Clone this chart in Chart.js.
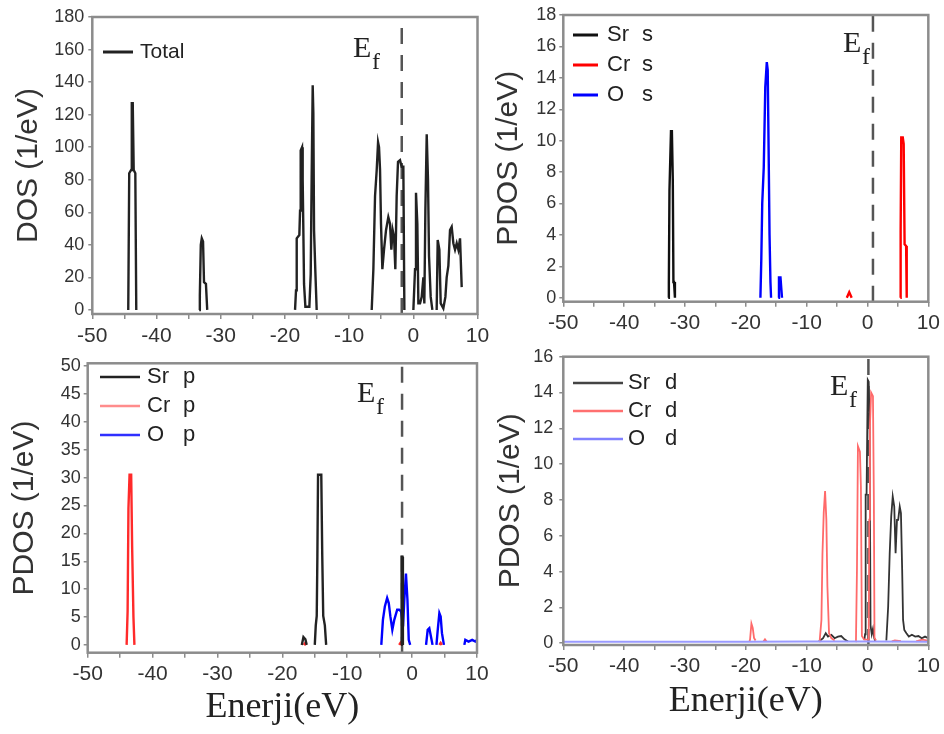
<!DOCTYPE html>
<html><head><meta charset="utf-8">
<script src="https://cdn.jsdelivr.net/npm/chart.js@4"></script>
<style>
html,body{margin:0;padding:0;background:#fff;}
#wrap{position:relative;width:944px;height:734px;overflow:hidden;background:#fff;}
canvas{position:absolute;left:0;top:0;}
</style></head><body>
<div id="wrap">
<canvas id="c1" width="944" height="734"></canvas>
<canvas id="c2" width="944" height="734"></canvas>
<canvas id="c3" width="944" height="734"></canvas>
<canvas id="c4" width="944" height="734"></canvas>
</div>
<script>
// ---------- DATA (energy in eV, DOS in 1/eV); null = gap ----------
const energyTickLabels = [-50,-40,-30,-20,-10,0,10];
const dosTickLabels  = [0,20,40,60,80,100,120,140,160,180];
const sTickLabels    = [0,2,4,6,8,10,12,14,16,18];
const pTickLabels    = [0,5,10,15,20,25,30,35,40,45,50];
const dTickLabels    = [0,2,4,6,8,10,12,14,16];
const fermiLevels    = [-1.8, 0.9, -1.55, 0.15];

const totalDOS = [[-44.4,0],[-44.25,84],[-43.95,86],[-43.85,127],[-43.7,127],[-43.55,86],[-43.3,84],[-43.15,0],[-40,null],
 [-33.35,0],[-33.25,9],[-33.1,40],[-32.95,44],[-32.75,42],[-32.6,17],[-32.3,16],[-32.1,0],[-25,null],
 [-18.42,0],[-18.27,12],[-18.16,44],[-17.75,46],[-17.64,61],[-17.54,98],[-17.33,100],[-17.23,80],[-17.12,47],[-17.02,16],[-16.81,2],[-16.19,2],[-15.98,22],[-15.83,82],[-15.67,138],[-15.57,121],[-15.46,49],[-15.26,24],[-15.05,0],[-10,null],
 [-6.48,0],[-6.22,25],[-5.96,70],[-5.70,86],[-5.49,103],[-5.34,100],[-5.18,86],[-5.03,53],[-4.82,25],[-4.56,37],[-4.25,49],[-3.89,57],[-3.63,53],[-3.42,37],[-3.21,49],[-3.00,45],[-2.80,25],[-2.59,70],[-2.38,91],[-2.07,92],[-1.81,88],[-1.55,88],[-1.39,0],[-0.7,null],
 [0.01,0],[0.27,25],[0.42,72],[0.63,53],[0.79,4],[1.05,4],[1.31,8],[1.57,20],[1.72,4],[1.88,61],[2.09,108],[2.29,80],[2.45,33],[2.71,8],[2.97,0],[3.3,null],
 [3.64,0],[3.80,43],[4.06,37],[4.27,4],[4.68,1],[5.00,8],[5.20,20],[5.46,27],[5.72,49],[5.98,51],[6.24,41],[6.50,37],[6.76,41],[7.02,37],[7.28,44],[7.54,14]];

const srS = [[-32.75,0],[-32.65,1],[-32.55,6.8],[-32.3,10.6],[-32.15,10.6],[-32.0,7.5],[-31.9,1.0],[-31.8,1.0],[-31.65,0]];
const crS = [[-3.4,0],[-3.0,0.35],[-2.6,0],[0,null],[5.4,0],[5.45,4.2],[5.55,10.2],[5.8,10.2],[5.95,9.8],[6.1,3.4],[6.35,3.3],[6.45,0]];
const oS  = [[-17.6,0],[-17.45,2.5],[-17.3,6.0],[-17.05,8.3],[-16.8,13.4],[-16.55,15],[-16.4,14.5],[-16.25,9.4],[-16.1,4.0],[-15.95,1.0],[-15.85,0],[-15.2,null],
 [-14.65,0],[-14.55,1.3],[-14.3,1.3],[-14.15,0.5],[-14.05,0]];

const srP = [[-17.0,0],[-16.75,1.4],[-16.45,1.0],[-16.25,0],[-15.5,null],
 [-15.0,0],[-14.85,3.5],[-14.7,5.2],[-14.6,16],[-14.5,30.5],[-14.0,30.5],[-13.85,16],[-13.7,5.2],[-13.45,3.5],[-13.25,0],[-5,null],
 [-1.7,0],[-1.62,15.8],[-1.5,15.8],[-1.42,0]];
const crP = [[-44.0,0],[-43.85,6],[-43.72,24.5],[-43.55,30.5],[-43.3,30.5],[-43.15,17.5],[-42.95,5],[-42.8,0],[-30,null],
 [-16.7,0],[-16.5,0.3],[-16.3,0],[-10,null],[-2.0,0],[-1.8,0.35],[-1.6,0],[1,null],[4.2,0],[4.4,0.35],[4.6,0]];
const oP  = [[-4.75,0],[-4.5,4.5],[-4.2,6.9],[-3.85,8.4],[-3.6,7.5],[-3.35,5.1],[-3.05,2.7],[-2.75,4.5],[-2.3,6.3],[-2.0,6.3],[-1.7,6.0],[-1.4,3.3],[-1.2,8.1],[-0.95,12.8],[-0.72,8.1],[-0.52,0.9],[-0.3,0],[1,null],
 [2.15,0],[2.4,2.7],[2.65,3.0],[2.9,1.5],[3.15,0],[3.4,null],
 [3.75,0],[3.95,2.7],[4.2,5.7],[4.4,5.1],[4.6,2.1],[4.9,0],[6,null],
 [8.05,0],[8.2,0.9],[8.7,0.6],[9.25,0.9],[9.75,0.6],[10,0.9]];

const srD = [[-8.0,0.1],[-7.3,0.28],[-6.86,0.56],[-6.49,0.37],[-5.94,0.47],[-5.4,0.28],[-4.86,0.37],[-4.32,0.4],[-3.78,0.22],[-3.2,0.1],[-2,null],
 [-0.5,0.2],[-0.4,0.5],[-0.3,8.3],[-0.15,8.3],[0.05,14.7],[0.2,14.6],[0.35,12],[0.5,1],[0.7,0.5],[0.9,0.8],[1.1,0.3],[1.3,0.1],[2,null],
 [3.1,0.15],[3.4,2.05],[3.65,5.0],[3.9,7.07],[4.15,8.19],[4.4,7.63],[4.62,5.02],[4.85,6.89],[5.05,6.89],[5.3,7.63],[5.5,7.26],[5.7,4.1],[5.85,1.3],[6.05,0.74],[6.4,0.56],[6.8,0.37],[7.3,0.47],[7.84,0.37],[8.38,0.4],[8.92,0.28],[9.46,0.37],[10,0.28]];
const crD = [[-19.4,0.1],[-19.3,0.2],[-19.08,1.1],[-18.86,0.85],[-18.65,0.3],[-18.4,0.15],[-17.5,null],
 [-17.1,0.1],[-16.85,0.22],[-16.6,0.1],[-10,null],
 [-7.9,0.1],[-7.84,0.2],[-7.57,1.3],[-7.4,5.0],[-7.19,7.3],[-6.97,8.5],[-6.76,6.9],[-6.59,3.2],[-6.32,0.56],[-5.94,0.28],[-5.4,0.15],[-3,null],
 [-1.95,0.1],[-1.89,0.2],[-1.73,4.1],[-1.57,11.0],[-1.24,10.7],[-1.08,8.75],[-0.92,0.4],[-0.54,0.2],[0.2,0.2],[0.3,6.9],[0.4,12.1],[0.6,14.0],[0.9,13.8],[1.05,8],[1.15,0.3],[1.4,0.15],[2.5,null],
 [4.0,0.1],[4.5,0.15],[5.5,0.12],[7,null],[8,0.1],[9,0.2],[10,0.15]];
const oD  = [[-50,0.08],[-30,0.08],[-20,0.08],[-10,0.1],[0,0.1],[10,0.08]];

// ---------- helpers ----------
const SANS = '"Liberation Sans", Arial, sans-serif';
const SERIF = '"Liberation Serif", "Times New Roman", serif';
const toXY = arr => arr.map(p => ({x: p[0], y: p[1]}));

const decor = {
  id: 'decor',
  afterDatasetsDraw(chart, args, o) {
    const ctx = chart.ctx, a = chart.chartArea;
    ctx.save();
    ctx.strokeStyle = '#8c8c8c'; ctx.lineWidth = 2.5;
    ctx.strokeRect(a.left, a.top, a.right - a.left, a.bottom - a.top);
    const L = o.legend;
    ctx.font = L.font; ctx.textBaseline = 'middle'; ctx.textAlign = 'left';
    chart.data.datasets.forEach(ds => {
      if (ds.legendRow === undefined) return;
      const y = L.y + ds.legendRow * L.dy;
      ctx.strokeStyle = ds.legendColor || ds.borderColor; ctx.lineWidth = L.lw;
      ctx.beginPath(); ctx.moveTo(L.x0, y); ctx.lineTo(L.x1, y); ctx.stroke();
      ctx.fillStyle = '#222';
      const parts = ds.label.split(' ');
      ctx.fillText(parts[0], L.tx, y);
      if (parts.length > 1) ctx.fillText(parts[1], L.tx + L.col, y);
    });
    const E = o.ef;
    ctx.fillStyle = '#222'; ctx.textBaseline = 'alphabetic';
    ctx.font = '30px ' + SERIF;
    ctx.fillText('E', E.x, E.y);
    ctx.font = '24px ' + SERIF;
    ctx.fillText('f', E.x + 19, E.y + 12);
    ctx.restore();
  }
};

function curve(label, arr, color, width, row, legendColor) {
  return {label, data: toXY(arr), borderColor: color, backgroundColor: color, borderWidth: width,
    pointRadius: 0, tension: 0, spanGaps: false, legendRow: row, legendColor};
}
function fermi(ef, ymin, ymax) {
  return {label: 'Ef', data: [{x: ef, y: ymin}, {x: ef, y: ymax}], borderColor: '#555', borderWidth: 2.5,
    borderDash: [16, 11], pointRadius: 0, tension: 0};
}

function makePanel(id, p) {
  new Chart(document.getElementById(id), {
    type: 'line',
    data: {datasets: p.datasets},
    options: {
      responsive: false, animation: false, devicePixelRatio: 1,
      layout: {padding: p.pad, autoPadding: false},
      plugins: {legend: {display: false}, tooltip: {enabled: false}, decor: {legend: p.legend, ef: p.ef}},
      scales: {
        x: {type: 'linear', min: -50, max: 10,
          afterFit: s => { s.height = p.xh; },
          border: {display: false},
          grid: {drawOnChartArea: false, tickLength: 5, color: '#8c8c8c', lineWidth: 1.5},
          ticks: {stepSize: 5, autoSkip: false, maxRotation: 0, padding: p.xpad, color: '#333',
            font: {family: SANS, size: 21},
            callback: v => energyTickLabels.includes(v) ? String(v) : ''},
          title: p.xtitle ? {display: true, text: p.xtitle, color: '#222', padding: 0,
            font: {family: SERIF, size: 36}} : {display: false}
        },
        y: {min: p.ymin, max: p.ymax,
          afterFit: s => { s.width = p.yw; },
          border: {display: false},
          grid: {drawOnChartArea: false, tickLength: 4, color: '#8c8c8c', lineWidth: 1.5},
          ticks: {stepSize: p.ystep, includeBounds: false, padding: p.ypad, color: '#333',
            font: {family: SANS, size: 18},
            callback: v => p.yticks.includes(v) ? String(v) : ''},
          title: {display: true, text: p.ytitle, color: '#333', padding: 0, font: {family: SANS, size: 30}}
        }
      }
    },
    plugins: [decor]
  });
}

makePanel('c1', {
  pad: {left: 10.3, top: 17, right: 466.5, bottom: 390}, yw: 82, xh: 30, xpad: 5, ypad: 4,
  ymin: -2.5, ymax: 180, ystep: 20, yticks: dosTickLabels, ytitle: 'DOS (1/eV)',
  legend: {x0: 103, x1: 133, tx: 140, y: 52, dy: 30, lw: 3, col: 0, font: '21px ' + SANS},
  ef: {x: 353, y: 57},
  datasets: [curve('Total', totalDOS, '#222', 2.4, 0), fermi(fermiLevels[0], -2.5, 180)]
});
makePanel('c2', {
  pad: {left: 491, top: 15, right: 10.7, bottom: 402.3}, yw: 72.3, xh: 30, xpad: 4, ypad: 3,
  ymin: -0.25, ymax: 18, ystep: 2, yticks: sTickLabels, ytitle: 'PDOS (1/eV)',
  legend: {x0: 573, x1: 598, tx: 607, y: 35, dy: 30, lw: 3, col: 35, font: '22px ' + SANS},
  ef: {x: 843, y: 52},
  datasets: [curve('Sr s', srS, '#111', 2.4, 0), curve('Cr s', crS, '#ff0000', 2.4, 1), curve('O s', oS, '#0000ff', 2.4, 2),
    fermi(fermiLevels[1], -0.25, 18)]
});
makePanel('c3', {
  pad: {left: 7, top: 363.3, right: 467, bottom: 4.4}, yw: 80.7, xh: 76.9, xpad: 4, ypad: 3,
  ymin: -1.4, ymax: 50.5, ystep: 5, yticks: pTickLabels, ytitle: 'PDOS (1/eV)', xtitle: 'Enerji(eV)',
  legend: {x0: 100, x1: 140, tx: 147, y: 377, dy: 29, lw: 2.5, col: 36, font: '22px ' + SANS},
  ef: {x: 357, y: 402},
  datasets: [curve('Sr p', srP, '#222', 2.4, 0), curve('Cr p', crP, '#ff2a2a', 2.4, 1, '#ff8c8c'), curve('O p', oP, '#0000ff', 2.4, 2, '#2f2fff'),
    fermi(fermiLevels[2], -1.4, 50.5)]
});
makePanel('c4', {
  pad: {left: 492.8, top: 356.7, right: 10.7, bottom: 10.7}, yw: 70.5, xh: 78.3, xpad: 4, ypad: 6,
  ymin: -0.1, ymax: 16, ystep: 2, yticks: dTickLabels, ytitle: 'PDOS (1/eV)', xtitle: 'Enerji(eV)',
  legend: {x0: 573, x1: 623, tx: 628, y: 383, dy: 28, lw: 2.5, col: 37, font: '22px ' + SANS},
  ef: {x: 830, y: 395},
  datasets: [curve('O d', oD, '#9a9aff', 2, 2, '#8080ff'), curve('Cr d', crD, '#ff6a6a', 1.8, 1, '#ff7070'), curve('Sr d', srD, '#333', 1.8, 0, '#444'),
    fermi(fermiLevels[3], -0.1, 16)]
});
</script>
</body></html>
